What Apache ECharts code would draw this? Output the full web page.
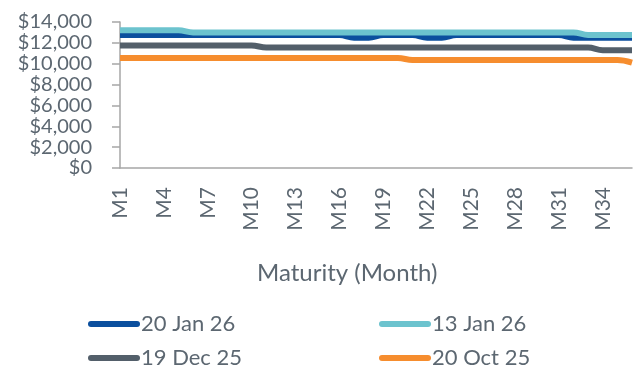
<!DOCTYPE html>
<html>
<head>
<meta charset="utf-8">
<script src="https://cdn.jsdelivr.net/npm/echarts@6/dist/echarts.min.js"></script>
<style>
  html, body { margin: 0; padding: 0; background: #fff; }
  #chart { width: 634px; height: 372px; }
</style>
</head>
<body>
<div id="chart"></div>
<script>
// Maturity months M1..M36
const months = Array.from({ length: 36 }, (_, i) => 'M' + (i + 1));

// Curve snapshots (USD)
const jan20 = [
  12750, 12750, 12750, 12750, 12750, 12750, 12750, 12750, 12750, 12750,
  12750, 12750, 12750, 12750, 12750, 12750, 12500, 12500, 12750, 12750,
  12750, 12500, 12500, 12750, 12750, 12750, 12750, 12750, 12750, 12750,
  12750, 12500, 12500, 12500, 12500, 12500
];
const jan13 = [
  13200, 13200, 13200, 13200, 13200, 13000, 13000, 13000, 13000, 13000,
  13000, 13000, 13000, 13000, 13000, 13000, 13000, 13000, 13000, 13000,
  13000, 13000, 13000, 13000, 13000, 13000, 13000, 13000, 13000, 13000,
  13000, 13000, 12750, 12750, 12750, 12750
];
const dec19 = [
  11750, 11750, 11750, 11750, 11750, 11750, 11750, 11750, 11750, 11750,
  11550, 11550, 11550, 11550, 11550, 11550, 11550, 11550, 11550, 11550,
  11550, 11550, 11550, 11550, 11550, 11550, 11550, 11550, 11550, 11550,
  11550, 11550, 11550, 11300, 11300, 11300
];
const oct20 = [
  10550, 10550, 10550, 10550, 10550, 10550, 10550, 10550, 10550, 10550,
  10550, 10550, 10550, 10550, 10550, 10550, 10550, 10550, 10550, 10550,
  10350, 10350, 10350, 10350, 10350, 10350, 10350, 10350, 10350, 10350,
  10350, 10350, 10350, 10350, 10350, 10100
];

const seriesNames = ['20 Jan 26', '13 Jan 26', '19 Dec 25', '20 Oct 25'];
const seriesColors = ['#0B4F9E', '#6CC3CE', '#535F6A', '#F68D2E'];
const seriesData = [jan20, jan13, dec19, oct20];

const textColor = '#5C6771';
const axisColor = '#A6A6A6';
const fontFamily = 'Lato, sans-serif';

const capsule = 'path://M3,0 L49,0 A3,3 0 0 1 49,6 L3,6 A3,3 0 0 1 3,0 Z';
const legendPos = [
  { left: 88, top: 313 },
  { left: 379, top: 313 },
  { left: 88, top: 347 },
  { left: 379, top: 347 }
];

const chart = echarts.init(document.getElementById('chart'), null, { renderer: 'canvas' });

chart.setOption({
  animation: false,
  backgroundColor: '#ffffff',
  title: {
    text: 'Maturity (Month)',
    left: 257,
    top: 261,
    padding: 0,
    textStyle: { color: textColor, fontSize: 24, fontWeight: 'normal', fontFamily: fontFamily }
  },
  grid: { left: 120, right: 2, top: 22, bottom: 204, containLabel: false },
  legend: seriesNames.map((name, i) => ({
    data: [name],
    left: legendPos[i].left,
    top: legendPos[i].top,
    padding: 0,
    icon: capsule,
    itemWidth: 52,
    itemHeight: 6,
    itemGap: 4,
    textStyle: { color: textColor, fontSize: 22, fontFamily: fontFamily, padding: [0, 0, 0, -4] }
  })),
  xAxis: {
    type: 'category',
    data: months,
    boundaryGap: false,
    axisLine: { show: true, lineStyle: { color: axisColor, width: 1.5 } },
    axisTick: { show: false },
    axisLabel: {
      interval: 2,
      rotate: 90,
      margin: 19,
      color: textColor,
      fontSize: 21,
      fontFamily: fontFamily
    },
    splitLine: { show: false }
  },
  yAxis: {
    type: 'value',
    min: 0,
    max: 14000,
    interval: 2000,
    axisLine: { show: true, lineStyle: { color: axisColor, width: 1.5 } },
    axisTick: { show: true, length: 8, lineStyle: { color: axisColor, width: 1.5 } },
    axisLabel: {
      margin: 28,
      color: textColor,
      fontSize: 20,
      fontFamily: fontFamily,
      formatter: v => '$' + v.toLocaleString('en-US')
    },
    splitLine: { show: false }
  },
  series: seriesNames.map((name, i) => ({
    name: name,
    type: 'line',
    data: seriesData[i],
    color: seriesColors[i],
    smooth: 0.4,
    showSymbol: false,
    symbol: 'none',
    lineStyle: { width: 6, color: seriesColors[i] }
  }))
});
</script>
</body>
</html>
